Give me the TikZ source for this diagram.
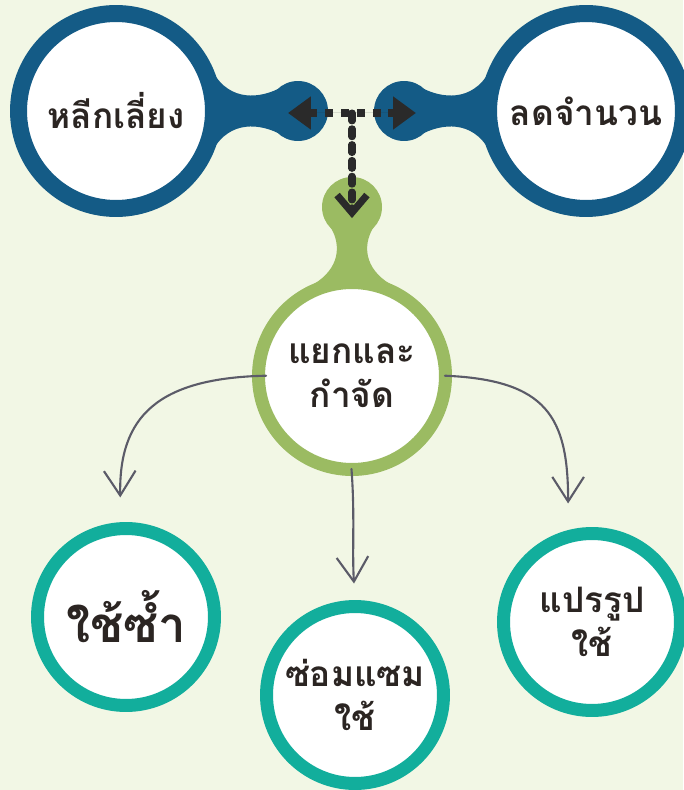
\documentclass[tikz,border=0pt]{standalone}
\usepackage{fontspec}
\newfontfamily\thaifont[Script=Thai]{Loma}
\usetikzlibrary{positioning}
\usetikzlibrary{arrows.meta}
\definecolor{bgC}{HTML}{F2F7E5}
\definecolor{blueC}{HTML}{145B86}
\definecolor{greenC}{HTML}{9BBB62}
\definecolor{tealC}{HTML}{12AE9C}
\definecolor{inkC}{HTML}{2B2522}
\definecolor{dotC}{HTML}{2A2A2A}
\definecolor{penC}{HTML}{5B5B68}

\tikzset{
  bubble/.style={circle, fill=white, text=inkC, align=center, inner sep=0pt,
    font={\thaifont\bfseries\fontsize{20}{25}\selectfont}},
  bluebubble/.style={bubble, draw=blueC, line width=0.34cm, minimum size=3.9cm},
  greenbubble/.style={bubble, draw=greenC, line width=0.26cm, minimum size=3.74cm},
  tealbubble/.style={bubble, draw=tealC, line width=0.26cm, minimum size=3.54cm},
  knob/.style={circle, inner sep=0pt, minimum size=1.2cm},
  dotlink/.style={draw=dotC, fill=dotC, line width=4pt, dash pattern=on 4.5pt off 4.5pt},
  penline/.style={draw=penC, line width=1.2pt, line cap=round,
    -{Straight Barb[length=14pt,width=18pt,line width=1.2pt]}}
}

\begin{document}
\begin{tikzpicture}[x=0.02cm, y=-0.02cm]
\fill[bgC] (0,0) rectangle (683,790);
\useasboundingbox (0,0) rectangle (683,790);

% necks of the knobs
\fill[blueC] (210,66) .. controls (225,100) and (255,100) .. (278,89)
  -- (278,133) .. controls (255,122) and (225,122) .. (210,156) -- cycle;
\fill[blueC] (492,66) .. controls (477,100) and (447,100) .. (424,89)
  -- (424,133) .. controls (447,122) and (477,122) .. (492,156) -- cycle;
\fill[greenC] (314,284) .. controls (340,268) and (341,245) .. (331,228)
  -- (373,228) .. controls (363,245) and (364,268) .. (390,284) -- cycle;

\node[knob, fill=blueC] (avoidknob) at (298,111) {};
\node[knob, fill=blueC] (reduceknob) at (404,111) {};
\node[knob, fill=greenC] (sortknob) at (352,207) {};

\node[bluebubble] (avoid) at (116,111) {หลีกเลี่ยง};
\node[bluebubble] (reduce) at (586,111) {ลดจำนวน};
\node[greenbubble] (sort) at (352,376) {แยกและ\\กำจัด};

\node[tealbubble, font={\thaifont\bfseries\fontsize{28}{32}\selectfont}] (reuse) at (126,617) {ใช้ซ้ำ};
\node[tealbubble] (repair) at (355,695) {ซ่อมแซม\\ใช้};
\node[tealbubble] (recycle) at (592,622) {แปรรูป\\ใช้};

\coordinate (split) at (352,113);
\draw[dotlink, {Triangle[length=13pt,width=18pt]}-{Triangle[length=13pt,width=18pt]},
  shorten <=-5.7pt, shorten >=-6.8pt] (avoidknob.center |- split) -- (reduceknob.center |- split);
\draw[dotlink, fill=none, -{Straight Barb[length=10pt,width=17pt]}, line cap=round,
  shorten >=-6.3pt] (split) -- (sortknob.center);

\draw[penline, shorten <=-8pt, shorten >=14pt] (sort.west)
  .. controls +(-95,2) and +(-2,-105) .. ([xshift=-3pt]reuse.north);
\draw[penline, shorten <=-4pt, shorten >=9.4pt] (sort.south)
  .. controls +(3,40) and +(-3,-50) .. (repair.north);
\draw[penline, shorten <=-4pt, shorten >=13.4pt] (sort.east)
  .. controls +(95,4) and +(0,-110) .. ([xshift=-13.6pt]recycle.north);
\end{tikzpicture}
\end{document}
